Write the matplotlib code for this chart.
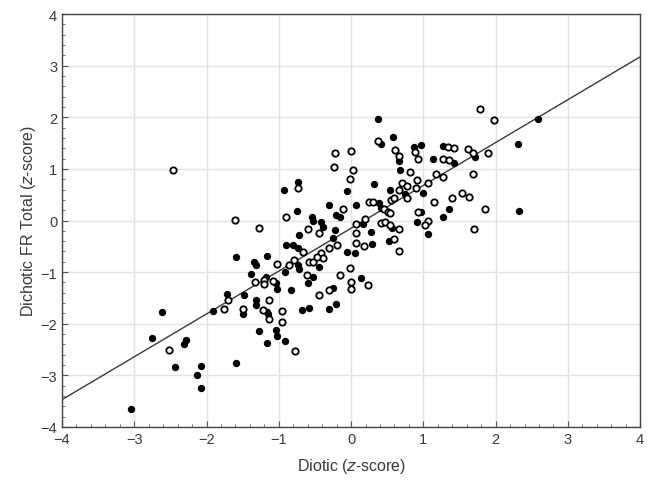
import matplotlib
matplotlib.use("Agg")
import matplotlib.pyplot as plt
from matplotlib.ticker import MultipleLocator

# filled markers
filled_x = [-1.59, -1.71, -1.91, -2.62, -2.76, -2.29, -2.31, -2.44, -2.08, -2.13,
            -2.08, -1.59, -3.05, -0.74, -0.93, -0.75, -0.31, -0.54, -0.53, -0.42,
            -0.39, -0.72, -0.90, -0.81, -0.73, -1.16, -1.34, -1.32, -0.74, -0.72,
            -0.92, -0.52, -0.45, -1.38, -1.18, -1.04, -1.02, -0.83, -0.60, -1.48,
            -1.32, -1.32, -1.50, -1.16, -1.15, -0.68, -0.58, -0.31, -1.27, -1.04,
            -1.02, -1.16, -0.92, 0.37, 0.41, 0.58, -0.06, 0.32, 0.66, 0.68,
            0.87, 0.97, 0.54, 0.74, 0.07, 0.39, 0.42, -0.21, -0.15, -0.22,
            -0.25, 0.16, 0.28, 0.29, -0.06, 0.05, 0.56, 0.53, 0.91, 0.14,
            -0.25, -0.21, 2.58, 2.31, 1.27, 1.71, 1.13, 1.42, 0.99, 1.35,
            1.27, 2.32, 0.97, 1.06]
filled_y = [-0.70, -1.43, -1.75, -1.77, -2.27, -2.31, -2.40, -2.83, -2.82, -2.99,
            -3.24, -2.77, -3.65, 0.74, 0.59, 0.18, 0.30, 0.07, 0.00, -0.03,
            -0.12, -0.28, -0.47, -0.48, -0.53, -0.68, -0.80, -0.87, -0.87, -0.93,
            -0.99, -1.09, -0.90, -1.03, -1.09, -1.22, -1.32, -1.35, -1.22, -1.45,
            -1.54, -1.64, -1.82, -1.78, -1.82, -1.74, -1.69, -1.72, -2.14, -2.13,
            -2.24, -2.37, -2.33, 1.96, 1.49, 1.61, 0.57, 0.70, 1.15, 0.97,
            1.42, 1.47, 0.59, 0.52, 0.30, 0.33, 0.25, 0.10, 0.07, -0.19,
            -0.34, -0.06, -0.22, -0.45, -0.61, -0.62, -0.14, -0.40, -0.03, -1.11,
            -1.30, -1.61, 1.96, 1.49, 1.44, 1.23, 1.19, 1.12, 0.54, 0.23,
            0.06, 0.18, 0.17, -0.27]

# open markers
open_x = [-2.47, -1.61, -1.70, -1.76, -2.52, -0.73, -0.90, -1.27, -0.60, -0.45,
          -0.67, -1.02, -0.79, -0.86, -0.61, -0.58, -0.53, -0.42, -0.39, -0.47,
          -0.31, -1.33, -1.21, -1.21, -1.08, -0.45, -0.31, -1.13, -1.49, -1.22,
          -1.13, -0.96, -0.96, -0.77, 0.37, 0.00, -0.22, -0.24, 0.03, -0.02,
          0.61, 0.66, 0.81, 0.89, 0.92, 0.91, 0.70, 0.78, 0.90, 0.67,
          0.25, 0.31, 0.46, 0.51, 0.54, 0.55, 0.60, 0.78, -0.11, 0.07,
          0.19, 0.07, 0.07, 0.18, -0.19, 0.41, 0.47, 0.54, 0.67, 0.60,
          0.67, 0.93, -0.01, -0.16, 0.00, 0.00, 0.24, 1.78, 1.98, 1.34,
          1.42, 1.62, 1.69, 1.90, 1.27, 1.36, 1.18, 1.27, 1.69, 1.07,
          1.15, 1.39, 1.53, 1.63, 1.85, 1.06, 1.02, 1.70]
open_y = [0.97, 0.01, -1.54, -1.71, -2.50, 0.62, 0.07, -0.14, -0.16, -0.25,
          -0.61, -0.85, -0.77, -0.87, -1.05, -0.80, -0.80, -0.63, -0.72, -0.70,
          -0.53, -1.20, -1.16, -1.23, -1.17, -1.45, -1.35, -1.54, -1.71, -1.74,
          -1.91, -1.76, -1.96, -2.53, 1.54, 1.34, 1.31, 1.04, 0.97, 0.80,
          1.36, 1.25, 0.93, 1.32, 1.20, 0.79, 0.72, 0.67, 0.63, 0.59,
          0.36, 0.36, 0.23, 0.17, 0.14, 0.39, 0.43, 0.43, 0.23, -0.06,
          0.03, -0.25, -0.43, -0.49, -0.47, -0.04, -0.03, -0.08, -0.16, -0.35,
          -0.59, 0.16, -0.92, -1.06, -1.19, -1.33, -1.25, 2.16, 1.94, 1.43,
          1.40, 1.38, 1.30, 1.31, 1.19, 1.17, 0.91, 0.85, 0.91, 0.72,
          0.36, 0.43, 0.54, 0.45, 0.22, -0.01, -0.08, -0.16]

# fitted line
line_x = [-4, 4]
fit_slope = 0.83
fit_intercept = -0.15

plt.rcParams["font.family"] = ["Liberation Sans", "DejaVu Sans"]

fig = plt.figure(figsize=(6.54, 4.81), dpi=100)
ax = fig.add_axes([0.0948, 0.1102, 0.884, 0.8586])

ax.grid(True, color="#e3e3e3", linewidth=1.0, zorder=0)
ax.plot(line_x, [fit_slope * v + fit_intercept for v in line_x],
        color="#3a3a3a", linewidth=1.0, zorder=2)
ax.scatter(filled_x, filled_y, s=28, color="black", linewidths=0, zorder=3)
ax.scatter(open_x, open_y, s=21, facecolors="white", edgecolors="black",
           linewidths=1.3, zorder=3)

ax.set_xlim(-4, 4)
ax.set_ylim(-4, 4)
ax.xaxis.set_major_locator(MultipleLocator(1))
ax.yaxis.set_major_locator(MultipleLocator(1))
ax.xaxis.set_minor_locator(MultipleLocator(0.2))
ax.yaxis.set_minor_locator(MultipleLocator(0.2))
ax.tick_params(which="both", direction="in", colors="#555555",
               labelcolor="#3a3a3a", labelsize=10.5)
ax.tick_params(which="major", length=4)
ax.tick_params(which="minor", length=2)
for s in ax.spines.values():
    s.set_color("#444444")
    s.set_linewidth(1.0)

ax.set_xlabel("Diotic ($\\it{z}$-score)", fontsize=11.5, color="#3a3a3a",
              labelpad=7)
ax.set_ylabel("Dichotic FR Total ($\\it{z}$-score)", fontsize=11.5,
              color="#3a3a3a", labelpad=2)

fig.savefig("out.png", dpi=100)
